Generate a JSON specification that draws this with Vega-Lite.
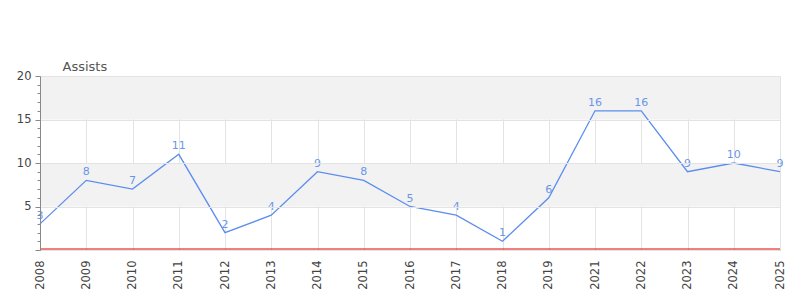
{
  "$schema": "https://vega.github.io/schema/vega-lite/v6.json",
  "autosize": "none",
  "width": 740,
  "height": 174,
  "padding": {"left": 40, "top": 76, "right": 20, "bottom": 50},
  "background": "white",
  "config": {
    "view": {"stroke": null},
    "font": "DejaVu Sans",
    "axis": {"labelFont": "DejaVu Sans", "labelColor": "#444", "labelFontSize": 11.5, "gridColor": "#e3e3e3", "domainColor": "#888", "tickColor": "#888"}
  },
  "datasets": {
    "bands": [
      {"lo": 5, "hi": 10},
      {"lo": 15, "hi": 20}
    ],
    "assists": [
      {"year": "2008", "assists": 3},
      {"year": "2009", "assists": 8},
      {"year": "2010", "assists": 7},
      {"year": "2011", "assists": 11},
      {"year": "2012", "assists": 2},
      {"year": "2013", "assists": 4},
      {"year": "2014", "assists": 9},
      {"year": "2015", "assists": 8},
      {"year": "2016", "assists": 5},
      {"year": "2017", "assists": 4},
      {"year": "2018", "assists": 1},
      {"year": "2019", "assists": 6},
      {"year": "2021", "assists": 16},
      {"year": "2022", "assists": 16},
      {"year": "2023", "assists": 9},
      {"year": "2024", "assists": 10},
      {"year": "2025", "assists": 9}
    ],
    "zero": [{"v": 0}]
  },
  "resolve": {"axis": {"y": "independent"}},
  "layer": [
    {
      "data": {"name": "bands"},
      "mark": {"type": "rect", "color": "#f2f2f2"},
      "encoding": {
        "y": {"field": "lo", "type": "quantitative", "scale": {"domain": [0, 20], "nice": false},
          "axis": {"values": [0, 5, 10, 15, 20], "labelExpr": "datum.value == 0 ? '' : datum.label", "grid": true, "domain": true, "domainColor": "#888", "domainWidth": 1, "tickSize": 5, "labelPadding": 4, "title": "Assists", "titleAngle": 0, "titleX": 22, "titleY": -3, "titleAlign": "left", "titleBaseline": "bottom", "titleFont": "DejaVu Sans", "titleFontSize": 13, "titleFontWeight": "normal", "titleColor": "#555", "orient": "left", "zindex": 1}},
        "y2": {"field": "hi"}
      }
    },
    {
      "data": {"name": "zero"},
      "mark": {"type": "rule", "color": "#888", "strokeWidth": 0},
      "encoding": {
        "y": {"field": "v", "type": "quantitative", "scale": {"domain": [0, 20], "nice": false},
          "axis": {"values": [1,2,3,4,6,7,8,9,11,12,13,14,16,17,18,19], "labels": false, "grid": false, "domain": false, "tickSize": 3, "title": null, "orient": "left"}}
      }
    },
    {
      "data": {"name": "assists"},
      "mark": {"type": "line", "color": "#5b8def", "strokeWidth": 1.3},
      "encoding": {
        "x": {"field": "year", "type": "ordinal", "scale": {"type": "point", "padding": 0},
          "axis": {"labelAngle": -90, "ticks": false, "labelPadding": 10, "grid": true, "title": null, "domainColor": "#777", "domainWidth": 1}},
        "y": {"field": "assists", "type": "quantitative", "scale": {"domain": [0, 20], "nice": false}, "axis": null}
      }
    },
    {
      "data": {"name": "assists"},
      "mark": {"type": "text", "color": "#6a96e8", "fontSize": 11, "baseline": "bottom", "dy": -3, "font": "DejaVu Sans"},
      "encoding": {
        "x": {"field": "year", "type": "ordinal", "scale": {"type": "point", "padding": 0}},
        "y": {"field": "assists", "type": "quantitative", "scale": {"domain": [0, 20], "nice": false}, "axis": null},
        "text": {"field": "assists", "type": "quantitative"}
      }
    },
    {
      "data": {"name": "zero"},
      "mark": {"type": "rule", "color": "#e00000", "strokeWidth": 1, "yOffset": -1},
      "encoding": {
        "y": {"field": "v", "type": "quantitative", "scale": {"domain": [0, 20], "nice": false}, "axis": null}
      }
    }
  ]
}
